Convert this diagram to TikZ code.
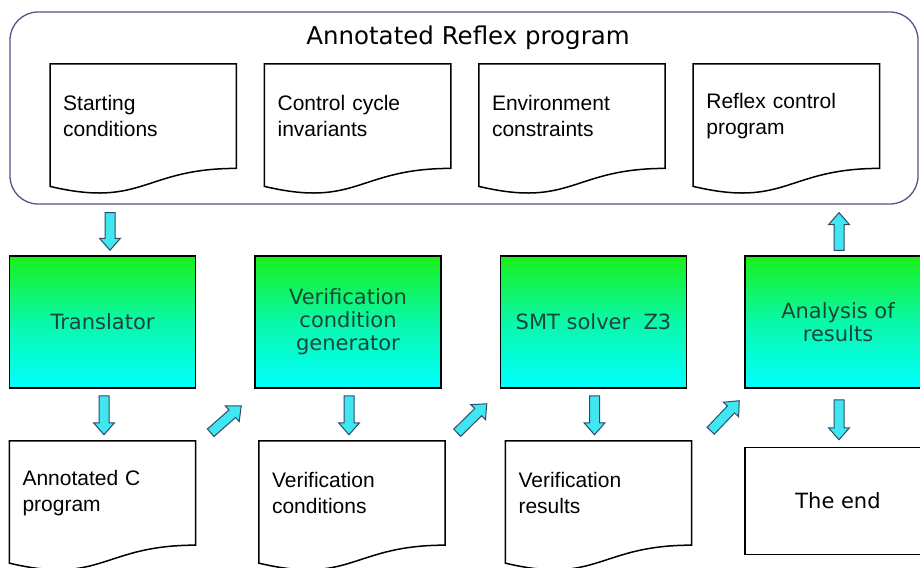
\documentclass[tikz,border=0pt]{standalone}
\usepackage{fontspec}
\setmainfont{Liberation Sans}
\newfontfamily\boxfont{DejaVu Sans}
\usetikzlibrary{positioning,calc}

\definecolor{frameblue}{RGB}{85,85,135}
\definecolor{arrowfill}{RGB}{64,230,240}
\definecolor{arrowline}{RGB}{45,75,105}
\definecolor{boxtext}{RGB}{25,70,55}
\definecolor{boxtop}{RGB}{25,240,25}
\definecolor{boxmid}{RGB}{10,248,170}
\definecolor{boxbot}{RGB}{0,255,255}

% outline of a document sheet with a wavy lower edge
\newcommand{\docframe}[1]{%
  \draw[docline] (#1.north west) -- (#1.north east) -- (#1.south east)
    .. controls (#1.south) and ($(#1.south)+(0,40)$) .. ($(#1.south west)+(0,18)$) -- cycle;}

\begin{document}
\begin{tikzpicture}[x=1pt, y=-1pt,
  docnode/.style={rectangle, anchor=north west, minimum width=186pt, minimum height=104pt,
    text width=160pt, inner xsep=13pt, align=left, font=\fontsize{21}{26}\selectfont},
  docline/.style={draw=black, line width=1.5pt},
  procbox/.style={rectangle, draw=black, line width=1.5pt, minimum width=186pt, minimum height=132pt,
    top color=boxtop, bottom color=boxbot, middle color=boxmid, text=boxtext, align=center,
    font=\boxfont\fontsize{21}{23}\selectfont},
  endbox/.style={rectangle, draw=black, line width=1.5pt, minimum width=186pt, minimum height=107pt,
    font=\boxfont\fontsize{21}{23}\selectfont},
  fat/.style={draw=arrowline, fill=arrowfill, line width=1pt,
    to path={($(\tikztostart)!5pt!90:(\tikztotarget)$)
      -- ($(\tikztotarget)!12pt!(\tikztostart)!5pt!90:(\tikztotarget)$)
      -- ($(\tikztotarget)!12pt!(\tikztostart)!10.5pt!90:(\tikztotarget)$)
      -- (\tikztotarget)
      -- ($(\tikztotarget)!12pt!(\tikztostart)!10.5pt!-90:(\tikztotarget)$)
      -- ($(\tikztotarget)!12pt!(\tikztostart)!5pt!-90:(\tikztotarget)$)
      -- ($(\tikztostart)!5pt!-90:(\tikztotarget)$) -- cycle}}
]
\useasboundingbox (0,0) rectangle (920,567);

% Annotated program
\node[rectangle, draw=frameblue, line width=1.3pt, rounded corners=28pt,
  minimum width=908pt, minimum height=192pt] (reflex) at (464,108) {};
\node[anchor=base, font=\boxfont\fontsize{24.5}{28}\selectfont] (title) at (468,45) {Annotated Reflex program};
\node[docnode] (start) at (50,64) {Starting\\conditions};
\node[docnode, right=28pt of start] (inv) {Control cycle\\invariants};
\node[docnode, right=28pt of inv] (env) {Environment\\constraints};
\node[docnode, right=28pt of env] (prog) {Reflex control\\program};
\docframe{start}
\docframe{inv}
\docframe{env}
\docframe{prog}

% Processing steps
\node[procbox] (trans) at (102.5,322) {Translator};
\node[procbox, right=58pt of trans] (vgen) {Verification\\condition\\generator};
\node[procbox, right=58pt of vgen] (smt) {SMT solver\ \ Z3};
\node[procbox, right=57pt of smt] (anal) {Analysis of\\results};

% Results
\node[docnode, below=52pt of trans] (cprog) {Annotated C\\program};
\node[docnode, below=52pt of vgen, xshift=4pt] (vcond) {Verification\\conditions};
\node[docnode, below=52pt of smt, xshift=5pt] (vres) {Verification\\results};
\node[endbox, below=58pt of anal] (theend) {The end};
\docframe{cprog}
\docframe{vcond}
\docframe{vres}

% Block arrows
\draw[fat] ($(reflex.south -| trans.north)+(7.5,8)$) to ($(trans.north)+(7.5,-5)$);
\draw[fat] ($(anal.north)+(1,-5)$) to ($(reflex.south -| anal.north)+(1,8)$);
\draw[fat] ($(trans.south)+(1.5,7)$) to ($(cprog.north)+(1.5,-6)$);
\draw[fat] ($(vgen.south)+(1,7)$) to ($(vcond.north -| vgen.south)+(1,-6)$);
\draw[fat] ($(smt.south)+(1,7)$) to ($(vres.north -| smt.south)+(1,-6)$);
\draw[fat] ($(anal.south)+(1,11)$) to ($(theend.north)+(1,-7)$);
\draw[fat] ($(cprog.north east)+(15,-8)$) to ($(vgen.south west)+(-13,17)$);
\draw[fat] ($(vcond.north east)+(12,-8)$) to ($(smt.south west)+(-13,15)$);
\draw[fat] ($(vres.north east)+(19,-10)$) to ($(anal.south west)+(-5,12)$);
\end{tikzpicture}
\end{document}
